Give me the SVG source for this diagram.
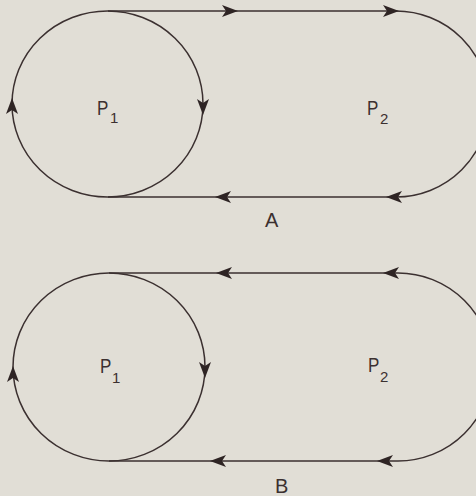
<svg xmlns="http://www.w3.org/2000/svg" xmlns:xlink="http://www.w3.org/1999/xlink" width="476" height="496" viewBox="0 0 476 496">
<style>
.ln{fill:none;stroke:#3b3030;stroke-width:1.5}
.ah{fill:#2e2424}
.t{font-family:"Liberation Sans",Arial,sans-serif;fill:#3b3030}
.big{font-size:20px}
.sub{font-size:15px}
</style>
<defs>
<path id="ah" d="M0,0 L-16,-6 L-12,0 L-16,6 Z"/>
</defs>
<rect width="476" height="496" fill="#e1ded6"/>
<g id="A-P1">
<ellipse class="ln" cx="107.5" cy="104" rx="95.5" ry="93"/>
<text class="t big" x="97" y="115" transform="translate(97 0) scale(0.85 1) translate(-97 0)">P</text><text class="t sub" x="110" y="123">1</text>
</g>
<g id="A-P2">
<text class="t big" x="367" y="115" transform="translate(367 0) scale(0.85 1) translate(-367 0)">P</text><text class="t sub" x="380" y="124">2</text>
</g>
<g id="B-P1">
<ellipse class="ln" cx="109" cy="367" rx="96" ry="94"/>
<text class="t big" x="100" y="373" transform="translate(100 0) scale(0.85 1) translate(-100 0)">P</text><text class="t sub" x="112" y="383">1</text>
</g>
<g id="B-P2">
<text class="t big" x="368" y="372" transform="translate(368 0) scale(0.85 1) translate(-368 0)">P</text><text class="t sub" x="380" y="382">2</text>
</g>
<g id="connectors">
<path class="ln" d="M108,11 H396 A93,93 0 0 1 396,197 H108"/>
<path class="ln" d="M109,273 H398 A94,94 0 0 1 398,461 H109"/>
<g class="ah">
<use xlink:href="#ah" transform="translate(238,11)"/>
<use xlink:href="#ah" transform="translate(399,11)"/>
<use xlink:href="#ah" transform="translate(215,197) rotate(180)"/>
<use xlink:href="#ah" transform="translate(386,197) rotate(180)"/>
<use xlink:href="#ah" transform="translate(203,115) rotate(90)"/>
<use xlink:href="#ah" transform="translate(12,98) rotate(-90)"/>
<use xlink:href="#ah" transform="translate(216,273) rotate(180)"/>
<use xlink:href="#ah" transform="translate(383,273) rotate(180)"/>
<use xlink:href="#ah" transform="translate(210,461) rotate(180)"/>
<use xlink:href="#ah" transform="translate(377,461) rotate(180)"/>
<use xlink:href="#ah" transform="translate(205,378) rotate(90)"/>
<use xlink:href="#ah" transform="translate(13,366) rotate(-90)"/>
</g>
</g>
<text class="t big" x="265" y="227">A</text>
<text class="t big" x="275" y="493">B</text>
</svg>
